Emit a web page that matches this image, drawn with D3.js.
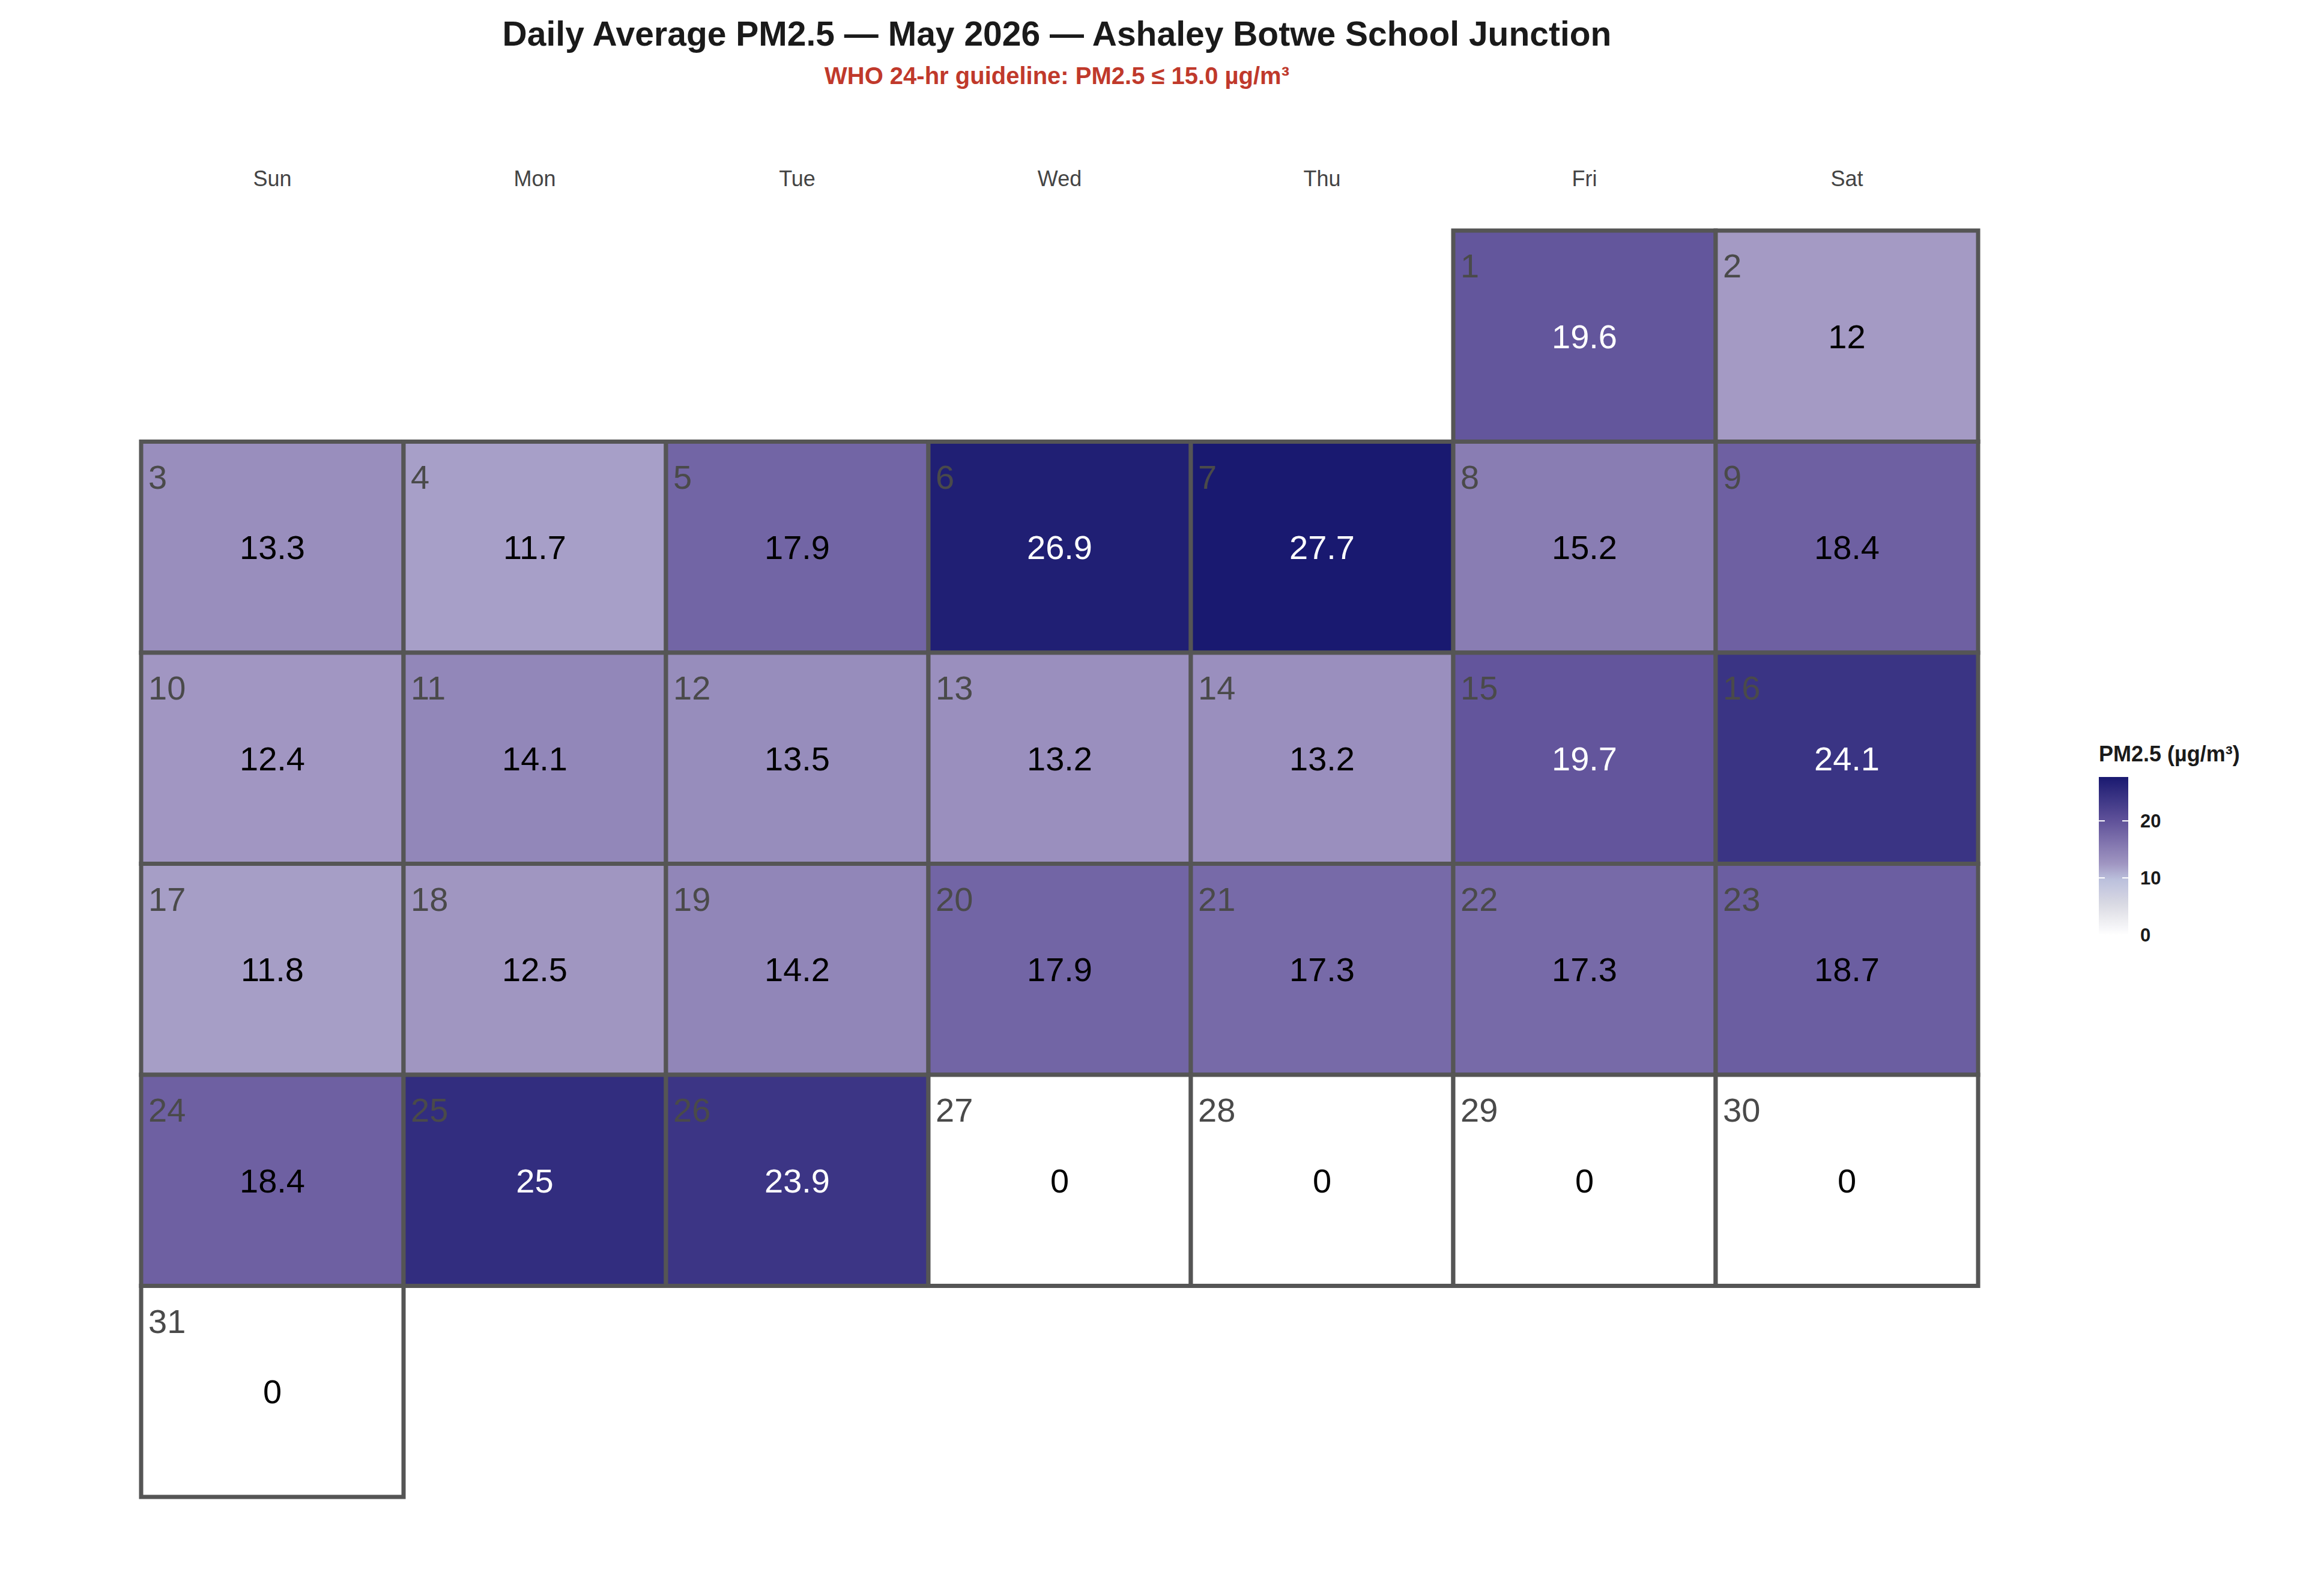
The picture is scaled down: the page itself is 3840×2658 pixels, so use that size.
<!DOCTYPE html>
<html>
<head>
<meta charset="utf-8">
<script src="https://cdn.jsdelivr.net/npm/d3@7"></script>
<style>
  body { margin: 0; background: #fff; }
  text { font-family: "Liberation Sans", Arial, sans-serif; }
</style>
</head>
<body>
<div id="chart"></div>
<script>
// data
var weekdays = ["Sun", "Mon", "Tue", "Wed", "Thu", "Fri", "Sat"];
var days = d3.range(1, 32);
var pm25 = [19.6, 12, 13.3, 11.7, 17.9, 26.9, 27.7, 15.2, 18.4, 12.4, 14.1, 13.5, 13.2, 13.2,
            19.7, 24.1, 11.8, 12.5, 14.2, 17.9, 17.3, 17.3, 18.7, 18.4, 25, 23.9, 0, 0, 0, 0, 0];
var firstWeekday = 5; // May 1 2026 is a Friday
var legendTicks = [0, 10, 20];

var W = 3840, H = 2658;
var gridLeft = 235, gridTop = 384, cellW = 437, cellH = 351.5;

var svg = d3.select("#chart").append("svg").attr("width", W).attr("height", H);

var x = d3.scaleBand().domain(weekdays).range([gridLeft, gridLeft + cellW * 7]);
var y = d3.scaleBand().domain(d3.range(6)).range([gridTop, gridTop + cellH * 6]);
var color = d3.scaleLinear()
    .domain([0, 5, 10, 12, 20, 27.7])
    .range(["#ffffff", "#dcdce4", "#b9bedc", "#a49ac4", "#60529a", "#191970"]);

var cells = days.map(function (d, i) {
  var idx = d - 1 + firstWeekday;
  return { day: d, v: pm25[i], wd: weekdays[idx % 7], wk: Math.floor(idx / 7) };
});

// title
svg.append("text").attr("x", 1760).attr("y", 76).attr("text-anchor", "middle")
  .attr("font-size", 57).attr("font-weight", "bold").attr("fill", "#1a1a1a")
  .text("Daily Average PM2.5  \u2014  May 2026  \u2014  Ashaley Botwe School Junction");
svg.append("text").attr("x", 1760).attr("y", 140).attr("text-anchor", "middle")
  .attr("font-size", 40).attr("font-weight", "bold").attr("fill", "#c0392b")
  .text("WHO 24-hr guideline: PM2.5 \u2264 15.0 \u00b5g/m\u00b3");

// weekday headers
svg.selectAll(".wd").data(weekdays).enter().append("text")
  .attr("x", function (d) { return x(d) + cellW / 2; })
  .attr("y", 310).attr("text-anchor", "middle")
  .attr("font-size", 36).attr("fill", "#444").text(function (d) { return d; });

var g = svg.selectAll(".cell").data(cells).enter().append("g");
g.append("rect")
  .attr("x", function (d) { return x(d.wd); })
  .attr("y", function (d) { return y(d.wk); })
  .attr("width", cellW).attr("height", cellH)
  .attr("fill", function (d) { return color(d.v); })
  .attr("stroke", "#555").attr("stroke-width", 7);
g.append("text")
  .attr("x", function (d) { return x(d.wd) + 12; })
  .attr("y", function (d) { return y(d.wk) + 78; })
  .attr("font-size", 56).attr("fill", "#4a4a4a")
  .text(function (d) { return d.day; });
g.append("text")
  .attr("x", function (d) { return x(d.wd) + cellW / 2; })
  .attr("y", function (d) { return y(d.wk) + cellH / 2 + 20; })
  .attr("text-anchor", "middle").attr("font-size", 56)
  .attr("fill", function (d) { return d.v > 19 ? "#fff" : "#000"; })
  .text(function (d) { return d.v; });

// legend
var lx = 3495, lw = 49;
var ly = d3.scaleLinear().domain([0, 27.7]).range([1557, 1294]);
var defs = svg.append("defs");
var grad = defs.append("linearGradient").attr("id", "lg")
  .attr("x1", 0).attr("y1", 1).attr("x2", 0).attr("y2", 0);
d3.range(0, 1.0001, 0.05).forEach(function (t) {
  grad.append("stop").attr("offset", t).attr("stop-color", color(t * 27.7));
});
svg.append("text").attr("x", lx).attr("y", 1268).attr("font-size", 36)
  .attr("font-weight", "bold").attr("fill", "#1a1a1a").text("PM2.5 (\u00b5g/m\u00b3)");
svg.append("rect").attr("x", lx).attr("y", ly(27.7)).attr("width", lw)
  .attr("height", ly(0) - ly(27.7)).attr("fill", "url(#lg)");
var lt = svg.selectAll(".lt").data(legendTicks).enter().append("g");
lt.append("line").attr("x1", lx).attr("x2", lx + 10)
  .attr("y1", function (d) { return ly(d); }).attr("y2", function (d) { return ly(d); })
  .attr("stroke", "#fff").attr("stroke-width", 2);
lt.append("line").attr("x1", lx + lw - 10).attr("x2", lx + lw)
  .attr("y1", function (d) { return ly(d); }).attr("y2", function (d) { return ly(d); })
  .attr("stroke", "#fff").attr("stroke-width", 2);
lt.append("text").attr("x", lx + lw + 20).attr("y", function (d) { return ly(d) + 11; })
  .attr("font-size", 31).attr("font-weight", "bold").attr("fill", "#1a1a1a")
  .text(function (d) { return d; });
</script>
</body>
</html>
